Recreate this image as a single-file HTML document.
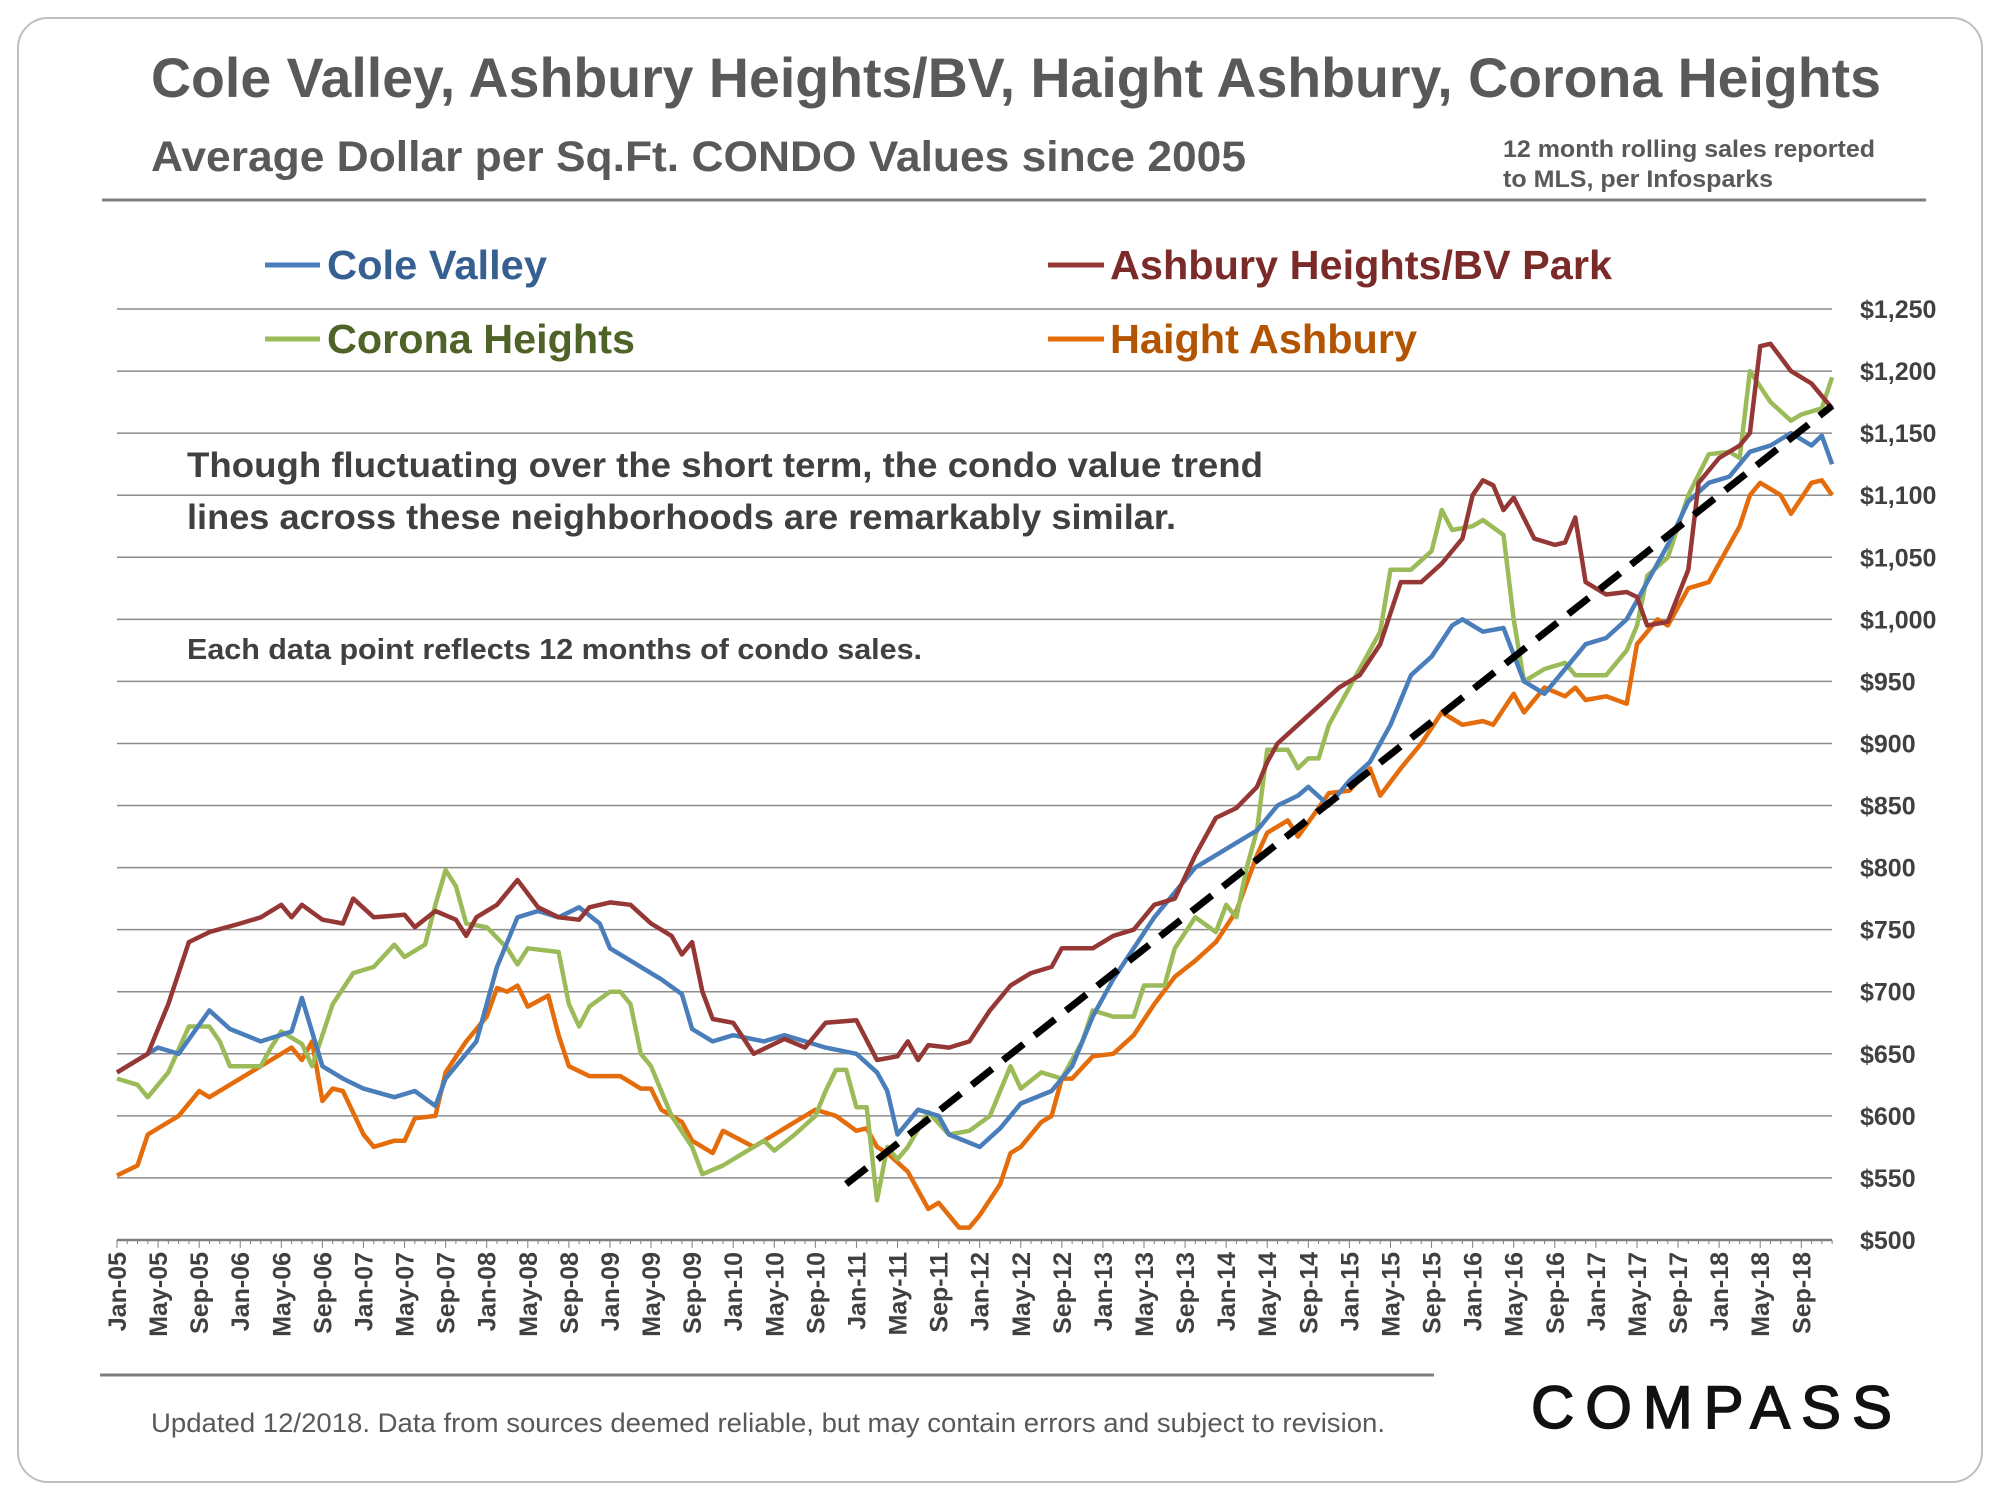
<!DOCTYPE html>
<html><head><meta charset="utf-8">
<style>
body{margin:0;width:2000px;height:1500px;background:#fff;font-family:"Liberation Sans",Arial,sans-serif;overflow:hidden}
</style></head>
<body>
<svg id="chart" width="2000" height="1500" xmlns="http://www.w3.org/2000/svg">
<rect x="18" y="18" width="1964" height="1464" rx="30" fill="#fff" stroke="#bfbfbf" stroke-width="2"/>
<text x="151" y="97" font-size="56" font-weight="bold" fill="#595959" textLength="1730" lengthAdjust="spacingAndGlyphs">Cole Valley, Ashbury Heights/BV, Haight Ashbury, Corona Heights</text>
<text x="151" y="171" font-size="43" font-weight="bold" fill="#595959" textLength="1095" lengthAdjust="spacingAndGlyphs">Average Dollar per Sq.Ft. CONDO Values since 2005</text>
<text x="1503" y="157" font-size="24" font-weight="bold" fill="#595959"><tspan x="1503" textLength="372" lengthAdjust="spacingAndGlyphs">12 month rolling sales reported</tspan><tspan x="1503" dy="30" textLength="270" lengthAdjust="spacingAndGlyphs">to MLS, per Infosparks</tspan></text>
<line x1="102" y1="200" x2="1926" y2="200" stroke="#7f7f7f" stroke-width="3"/>
<g id="grid"></g>
<g id="series"></g>
<g>
<line x1="265" y1="265" x2="320" y2="265" stroke="#4a7ebb" stroke-width="5"/>
<text x="327" y="279" font-size="41" font-weight="bold" fill="#376092" textLength="220" lengthAdjust="spacingAndGlyphs">Cole Valley</text>
<line x1="1048" y1="265" x2="1104" y2="265" stroke="#953735" stroke-width="5"/>
<text x="1110" y="279" font-size="41" font-weight="bold" fill="#7a2b29" textLength="502" lengthAdjust="spacingAndGlyphs">Ashbury Heights/BV Park</text>
<line x1="265" y1="339" x2="320" y2="339" stroke="#9bbb59" stroke-width="5"/>
<text x="327" y="353" font-size="41" font-weight="bold" fill="#4f6228" textLength="308" lengthAdjust="spacingAndGlyphs">Corona Heights</text>
<line x1="1048" y1="339" x2="1104" y2="339" stroke="#e46c0a" stroke-width="5"/>
<text x="1110" y="353" font-size="41" font-weight="bold" fill="#b25400" textLength="307" lengthAdjust="spacingAndGlyphs">Haight Ashbury</text>
</g>
<text x="187" y="477" font-size="35" font-weight="bold" fill="#404040"><tspan x="187" textLength="1076" lengthAdjust="spacingAndGlyphs">Though fluctuating over the short term, the condo value trend</tspan><tspan x="187" dy="52" textLength="989" lengthAdjust="spacingAndGlyphs">lines across these neighborhoods are remarkably similar.</tspan></text>
<text x="187" y="659" font-size="29" font-weight="bold" fill="#404040" textLength="735" lengthAdjust="spacingAndGlyphs">Each data point reflects 12 months of condo sales.</text>
<line x1="100" y1="1375" x2="1434" y2="1375" stroke="#7f7f7f" stroke-width="3"/>
<text x="151" y="1432" font-size="27" fill="#595959" textLength="1234" lengthAdjust="spacingAndGlyphs">Updated 12/2018. Data from sources deemed reliable, but may contain errors and subject to revision.</text>
<text x="1531" y="1428" font-size="60" fill="#111" textLength="361" lengthAdjust="spacing" stroke="#111" stroke-width="1.5">COMPASS</text>
</svg>
<script>
const yTicks=[500,550,600,650,700,750,800,850,900,950,1000,1050,1100,1150,1200,1250];
const xTickLabels=['Jan-05','May-05','Sep-05','Jan-06','May-06','Sep-06','Jan-07','May-07','Sep-07','Jan-08','May-08','Sep-08','Jan-09','May-09','Sep-09','Jan-10','May-10','Sep-10','Jan-11','May-11','Sep-11','Jan-12','May-12','Sep-12','Jan-13','May-13','Sep-13','Jan-14','May-14','Sep-14','Jan-15','May-15','Sep-15','Jan-16','May-16','Sep-16','Jan-17','May-17','Sep-17','Jan-18','May-18','Sep-18'];
const coleDates=['Jan-05','May-05','Jul-05','Oct-05','Dec-05','Mar-06','Jun-06','Jul-06','Sep-06','Nov-06','Jan-07','Apr-07','Jun-07','Aug-07','Sep-07','Dec-07','Feb-08','Apr-08','Jun-08','Aug-08','Oct-08','Dec-08','Jan-09','Apr-09','Jun-09','Aug-09','Sep-09','Nov-09','Jan-10','Apr-10','Jun-10','Aug-10','Oct-10','Jan-11','Mar-11','Apr-11','May-11','Jul-11','Sep-11','Oct-11','Jan-12','Mar-12','May-12','Aug-12','Oct-12','Dec-12','Feb-13','Apr-13','Jun-13','Aug-13','Oct-13','Dec-13','Feb-14','Apr-14','Jun-14','Aug-14','Sep-14','Nov-14','Jan-15','Mar-15','May-15','Jul-15','Sep-15','Nov-15','Dec-15','Feb-16','Apr-16','Jun-16','Aug-16','Oct-16','Dec-16','Feb-17','Apr-17','Jun-17','Aug-17','Oct-17','Dec-17','Feb-18','Apr-18','Jun-18','Aug-18','Oct-18','Nov-18','Dec-18'];
const coleValues=[635,655,650,685,670,660,668,695,640,630,622,615,620,608,630,660,720,760,765,760,768,755,735,720,710,698,670,660,665,660,665,660,655,650,635,620,585,605,600,585,575,590,610,620,640,680,710,735,760,780,800,810,820,830,850,858,865,850,870,885,915,955,970,995,1000,990,993,950,940,960,980,985,1000,1030,1060,1095,1110,1115,1135,1140,1150,1140,1148,1125];
const ashDates=['Jan-05','Apr-05','Jun-05','Aug-05','Oct-05','Jan-06','Mar-06','May-06','Jun-06','Jul-06','Sep-06','Nov-06','Dec-06','Feb-07','May-07','Jun-07','Aug-07','Oct-07','Nov-07','Dec-07','Feb-08','Apr-08','Jun-08','Aug-08','Oct-08','Nov-08','Jan-09','Mar-09','May-09','Jul-09','Aug-09','Sep-09','Oct-09','Nov-09','Jan-10','Mar-10','Jun-10','Aug-10','Oct-10','Jan-11','Mar-11','May-11','Jun-11','Jul-11','Aug-11','Oct-11','Dec-11','Feb-12','Apr-12','Jun-12','Aug-12','Sep-12','Dec-12','Feb-13','Apr-13','Jun-13','Aug-13','Oct-13','Dec-13','Feb-14','Apr-14','May-14','Jun-14','Aug-14','Oct-14','Dec-14','Feb-15','Apr-15','May-15','Jun-15','Aug-15','Oct-15','Dec-15','Jan-16','Feb-16','Mar-16','Apr-16','May-16','Jul-16','Sep-16','Oct-16','Nov-16','Dec-16','Feb-17','Apr-17','May-17','Jun-17','Aug-17','Oct-17','Nov-17','Jan-18','Mar-18','Apr-18','May-18','Jun-18','Aug-18','Oct-18','Nov-18','Dec-18'];
const ashValues=[635,650,690,740,748,755,760,770,760,770,758,755,775,760,762,752,765,758,745,760,770,790,768,760,758,768,772,770,755,745,730,740,700,678,675,650,662,655,675,677,645,648,660,645,657,655,660,685,705,715,720,735,735,745,750,770,775,810,840,848,865,885,900,915,930,945,955,980,1005,1030,1030,1045,1065,1100,1112,1108,1088,1098,1065,1060,1062,1082,1030,1020,1022,1018,995,998,1040,1110,1130,1140,1150,1220,1222,1200,1190,1180,1170];
const coronaDates=['Jan-05','Mar-05','Apr-05','Jun-05','Aug-05','Oct-05','Nov-05','Dec-05','Mar-06','Apr-06','May-06','Jul-06','Aug-06','Oct-06','Dec-06','Feb-07','Apr-07','May-07','Jul-07','Aug-07','Sep-07','Oct-07','Nov-07','Jan-08','Mar-08','Apr-08','May-08','Aug-08','Sep-08','Oct-08','Nov-08','Jan-09','Feb-09','Mar-09','Apr-09','May-09','Jul-09','Sep-09','Oct-09','Dec-09','Feb-10','Apr-10','May-10','Jul-10','Sep-10','Oct-10','Nov-10','Dec-10','Jan-11','Feb-11','Mar-11','Apr-11','May-11','Jun-11','Aug-11','Oct-11','Dec-11','Feb-12','Apr-12','May-12','Jul-12','Sep-12','Nov-12','Dec-12','Feb-13','Apr-13','May-13','Jul-13','Aug-13','Oct-13','Dec-13','Jan-14','Feb-14','Mar-14','Apr-14','May-14','Jul-14','Aug-14','Sep-14','Oct-14','Nov-14','Dec-14','Feb-15','Apr-15','May-15','Jul-15','Sep-15','Oct-15','Nov-15','Jan-16','Feb-16','Apr-16','May-16','Jun-16','Aug-16','Oct-16','Nov-16','Feb-17','Apr-17','May-17','Jun-17','Aug-17','Oct-17','Dec-17','Feb-18','Mar-18','Apr-18','Jun-18','Aug-18','Sep-18','Nov-18','Dec-18'];
const coronaValues=[630,625,615,635,672,672,660,640,640,655,668,658,640,690,715,720,738,728,738,770,798,785,755,752,735,722,735,732,690,672,688,700,700,690,650,640,600,575,553,560,570,580,572,585,600,620,637,637,607,607,532,575,565,575,603,585,588,600,640,622,635,630,660,685,680,680,705,705,735,760,748,770,760,800,830,895,895,880,888,888,915,930,960,990,1040,1040,1055,1088,1072,1075,1080,1068,1000,950,960,965,955,955,975,995,1035,1050,1100,1133,1135,1130,1200,1175,1160,1165,1170,1195];
const haightDates=['Jan-05','Mar-05','Apr-05','Jul-05','Sep-05','Oct-05','Jan-06','Apr-06','Jun-06','Jul-06','Aug-06','Sep-06','Oct-06','Nov-06','Jan-07','Feb-07','Apr-07','May-07','Jun-07','Aug-07','Sep-07','Nov-07','Jan-08','Feb-08','Mar-08','Apr-08','May-08','Jul-08','Aug-08','Sep-08','Nov-08','Feb-09','Apr-09','May-09','Jun-09','Aug-09','Sep-09','Nov-09','Dec-09','Mar-10','May-10','Jul-10','Sep-10','Nov-10','Jan-11','Feb-11','Mar-11','Apr-11','Jun-11','Aug-11','Sep-11','Nov-11','Dec-11','Jan-12','Mar-12','Apr-12','May-12','Jul-12','Aug-12','Sep-12','Oct-12','Dec-12','Feb-13','Apr-13','Jun-13','Aug-13','Oct-13','Dec-13','Feb-14','Apr-14','May-14','Jul-14','Aug-14','Oct-14','Nov-14','Jan-15','Mar-15','Apr-15','Jun-15','Aug-15','Oct-15','Dec-15','Feb-16','Mar-16','May-16','Jun-16','Aug-16','Oct-16','Nov-16','Dec-16','Feb-17','Apr-17','May-17','Jul-17','Aug-17','Oct-17','Dec-17','Jan-18','Mar-18','Apr-18','May-18','Jul-18','Aug-18','Oct-18','Nov-18','Dec-18'];
const haightValues=[552,560,585,600,620,615,630,645,655,645,660,612,622,620,585,575,580,580,598,600,635,660,680,703,700,705,688,697,665,640,632,632,622,622,605,595,580,570,588,575,585,595,605,600,588,590,575,570,555,525,530,510,510,520,545,570,575,595,600,630,630,648,650,665,690,712,725,740,765,810,828,838,825,848,860,862,880,858,880,900,925,915,918,915,940,925,945,938,945,935,938,932,980,1000,995,1025,1030,1045,1075,1100,1110,1100,1085,1110,1112,1100];
const trendDates=['Dec-10','Dec-18'];
const trendValues=[545,1172];

const MON=['Jan','Feb','Mar','Apr','May','Jun','Jul','Aug','Sep','Oct','Nov','Dec'];
function mIdx(s){const [m,y]=s.split('-');return (parseInt(y,10)-5)*12+MON.indexOf(m);}
const X0=117,PX=10.27,Y0=1240,PY=931/750;
function xScale(s){return X0+mIdx(s)*PX;}
function yScale(v){return Y0-(v-500)*PY;}
const NS='http://www.w3.org/2000/svg';
const grid=document.getElementById('grid'),ser=document.getElementById('series');
const xR=X0+167*PX;
yTicks.forEach(v=>{
 const l=document.createElementNS(NS,'line');
 l.setAttribute('x1',X0);l.setAttribute('x2',xR);l.setAttribute('y1',yScale(v));l.setAttribute('y2',yScale(v));
 l.setAttribute('stroke',v===500?'#7f7f7f':'#8c8c8c');l.setAttribute('stroke-width',v===500?2.5:1.5);
 
 
 grid.appendChild(l);
 const t=document.createElementNS(NS,'text');
 t.setAttribute('x',1860);t.setAttribute('y',yScale(v)+9);t.setAttribute('font-size','25');t.setAttribute('font-weight','bold');t.setAttribute('fill','#404040');
 t.textContent='$'+v.toLocaleString('en-US');
 
 
 grid.appendChild(t);
});
for(let i=0;i<=167;i++){
 const x=X0+i*PX;const tk=document.createElementNS(NS,'line');
 tk.setAttribute('x1',x);tk.setAttribute('x2',x);tk.setAttribute('y1',Y0);tk.setAttribute('y2',Y0+(i%4===0?8:4));
 tk.setAttribute('stroke','#7f7f7f');tk.setAttribute('stroke-width',1);
 
 
 grid.appendChild(tk);
}
xTickLabels.forEach(s=>{
 const x=xScale(s)+9;const t=document.createElementNS(NS,'text');
 t.setAttribute('transform','translate('+x+','+(Y0+12)+') rotate(-90)');
 t.setAttribute('text-anchor','end');t.setAttribute('font-size','25');t.setAttribute('font-weight','bold');t.setAttribute('fill','#404040');
 t.textContent=s;
 
 
 grid.appendChild(t);
});
function drawLine(dates,vals,color,name,dash){
 const p=document.createElementNS(NS,'polyline');
 p.setAttribute('points',dates.map((d,i)=>xScale(d).toFixed(1)+','+yScale(vals[i]).toFixed(1)).join(' '));
 p.setAttribute('fill','none');p.setAttribute('stroke',color);p.setAttribute('stroke-width',dash?7:4.5);p.setAttribute('stroke-linejoin','round');
 if(dash)p.setAttribute('stroke-dasharray','26 14');
 
 
 ser.appendChild(p);
}
drawLine(haightDates,haightValues,'#e46c0a','series-haight-ashbury');
drawLine(coronaDates,coronaValues,'#9bbb59','series-corona-heights');
drawLine(coleDates,coleValues,'#4a7ebb','series-cole-valley');
drawLine(ashDates,ashValues,'#953735','series-ashbury-heights');
drawLine(trendDates,trendValues,'#000','trend-line',true);
</script>
</body></html>
